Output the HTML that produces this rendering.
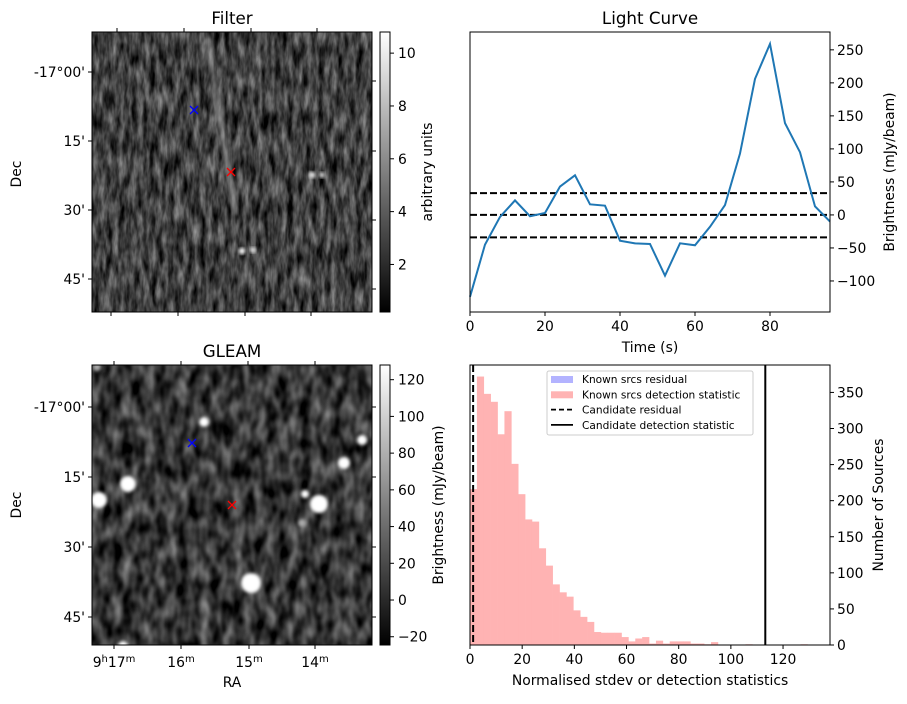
<!DOCTYPE html>
<html><head><meta charset="utf-8"><style>
body{margin:0;background:#fff;}
svg text{font-family:"DejaVu Sans","Liberation Sans",sans-serif;fill:#000;}
</style></head><body>
<svg id="fig" width="907" height="699" viewBox="0 0 907 699" xmlns="http://www.w3.org/2000/svg">
<defs>
<linearGradient id="gray" x1="0" y1="1" x2="0" y2="0"><stop offset="0" stop-color="#000"/><stop offset="1" stop-color="#fff"/></linearGradient>
<filter id="noiseF" x="0" y="0" width="100%" height="100%" color-interpolation-filters="sRGB"><feTurbulence type="fractalNoise" baseFrequency="0.16 0.045" numOctaves="3" seed="4"/><feColorMatrix type="matrix" values="0.8 0 0 0 -0.15 0.8 0 0 0 -0.15 0.8 0 0 0 -0.15 0 0 0 0 1"/></filter>
<filter id="noiseG" x="0" y="0" width="100%" height="100%" color-interpolation-filters="sRGB"><feTurbulence type="fractalNoise" baseFrequency="0.09 0.05" numOctaves="2" seed="9"/><feColorMatrix type="matrix" values="0.8 0 0 0 -0.19 0.8 0 0 0 -0.19 0.8 0 0 0 -0.19 0 0 0 0 1"/></filter>
<filter id="blur2"><feGaussianBlur stdDeviation="1.5"/></filter>
<clipPath id="clipF"><rect x="92" y="32" width="280" height="280"/></clipPath>
<clipPath id="clipG"><rect x="92" y="365" width="280" height="280"/></clipPath>
</defs>

<g>
<text x="232" y="24" font-size="16.7" text-anchor="middle">Filter</text>
<g clip-path="url(#clipF)">
<rect x="92" y="32" width="280" height="280" fill="#333"/>
<rect x="92" y="32" width="280" height="280" filter="url(#noiseF)"/>
<line x1="207" y1="38" x2="236" y2="215" stroke="#bbb" stroke-width="6" opacity="0.45" filter="url(#blur2)"/>
<circle cx="242" cy="251" r="3.5" fill="#eee" filter="url(#blur2)"/><circle cx="253" cy="250" r="3" fill="#ddd" filter="url(#blur2)"/>
<circle cx="312" cy="175" r="3.5" fill="#ddd" filter="url(#blur2)"/><circle cx="322" cy="175" r="3" fill="#ccc" filter="url(#blur2)"/>
</g>
<rect x="92" y="32" width="280" height="280" fill="none" stroke="#000" stroke-width="1"/>
<g stroke="#00f" stroke-width="1.3"><line x1="190" y1="106" x2="198" y2="114"/><line x1="198" y1="106" x2="190" y2="114"/></g>
<g stroke="#f00" stroke-width="1.3"><line x1="227" y1="168" x2="235" y2="176"/><line x1="235" y1="168" x2="227" y2="176"/></g>
<g id="filterTicks" stroke="#000"></g>
<text x="21" y="174" font-size="13.9" text-anchor="middle" transform="rotate(-90 21 174)">Dec</text>
<rect x="380" y="32" width="10" height="280" fill="url(#gray)" stroke="#000" stroke-width="1"/>
<text x="432" y="172" font-size="13.9" text-anchor="middle" transform="rotate(-90 432 172)">arbitrary units</text>
</g>

<g>
<text x="232" y="357" font-size="16.7" text-anchor="middle">GLEAM</text>
<g clip-path="url(#clipG)">
<rect x="92" y="365" width="280" height="280" fill="#252525"/>
<rect x="92" y="365" width="280" height="280" filter="url(#noiseG)"/>
<g fill="#fff" filter="url(#blur2)">
<circle cx="128" cy="484" r="8"/><circle cx="99" cy="500" r="8"/><circle cx="204" cy="422" r="5"/>
<circle cx="251" cy="583" r="10"/><circle cx="319" cy="504" r="9"/><circle cx="344" cy="463" r="6"/>
<circle cx="362" cy="440" r="5"/><circle cx="305" cy="494" r="4"/><circle cx="302" cy="523" r="4" fill="#aaa"/><circle cx="123" cy="646" r="5"/><circle cx="97" cy="367" r="4" fill="#aaa"/>
</g>
</g>
<rect x="92" y="365" width="280" height="280" fill="none" stroke="#000" stroke-width="1"/>
<g stroke="#00f" stroke-width="1.3"><line x1="188" y1="439" x2="196" y2="447"/><line x1="196" y1="439" x2="188" y2="447"/></g>
<g stroke="#f00" stroke-width="1.3"><line x1="228" y1="501" x2="236" y2="509"/><line x1="236" y1="501" x2="228" y2="509"/></g>
<g id="gleamTicks" stroke="#000"></g>
<text x="21" y="505" font-size="13.9" text-anchor="middle" transform="rotate(-90 21 505)">Dec</text>
<text x="232" y="687" font-size="13.9" text-anchor="middle">RA</text>
<rect x="380" y="365" width="10" height="280" fill="url(#gray)" stroke="#000" stroke-width="1"/>
</g>

<g id="lc">
<text x="650" y="24" font-size="16.7" text-anchor="middle">Light Curve</text>
</g>
<g id="hist"></g>
</svg>
<script>
const NS="http://www.w3.org/2000/svg";
const FS=13.9;
function mk(parent,tag,attrs,text){const e=document.createElementNS(NS,tag);for(const k in attrs)e.setAttribute(k,attrs[k]);if(text!==undefined)e.textContent=text;parent.appendChild(e);return e;}

const decLabels=["-17°00'","15'","30'","45'"];
const raLabels=[["9","h","17","m"],["","","16","m"],["","","15","m"],["","","14","m"]];
const filterCbTicks=[2,4,6,8,10];
const gleamCbTicks=[-20,0,20,40,60,80,100,120];
function imgTicks(g,top,decY,raX,raTopX,rightY,showRA){
  decY.forEach((y,i)=>{mk(g,'line',{x1:88,y1:top+y,x2:92,y2:top+y});
    const t=mk(g,'text',{x:85,y:top+y+5,'font-size':FS,'text-anchor':'end',stroke:'none'},decLabels[i]);
    
    });
  rightY.forEach(y=>mk(g,'line',{x1:372,y1:top+y,x2:376,y2:top+y}));
  raTopX.forEach(x=>mk(g,'line',{x1:x,y1:top-4,x2:x,y2:top}));
  raX.forEach((x,i)=>{mk(g,'line',{x1:x,y1:top+280,x2:x,y2:top+284});
    if(showRA){const l=raLabels[i];
      const t=mk(g,'text',{x:x,y:top+302,'font-size':FS,'text-anchor':'middle',stroke:'none'});
      
      
      if(l[0]){mk(t,'tspan',{},l[0]);mk(t,'tspan',{'font-size':10,dy:-5},l[1]);mk(t,'tspan',{dy:5},l[2]);}
      else mk(t,'tspan',{},l[2]);
      mk(t,'tspan',{'font-size':10,dy:-5},l[3]);}});
}
imgTicks(document.getElementById('filterTicks'),32,[40,109,178,247],[111,178,245,311],[117,184,251,317],[49,119,188,257],false);
imgTicks(document.getElementById('gleamTicks'),365,[42,112,182,252],[114,181,249,315],[114,181,248,315],[42,112,182,252],true);
function cbTicks(g,ticks,vmin,vmax,top){ticks.forEach(v=>{const y=top+280-(v-vmin)/(vmax-vmin)*280;
  mk(g,'line',{x1:390,y1:y,x2:394,y2:y});
  const t=mk(g,'text',{x:398,y:y+5,'font-size':FS,stroke:'none'},v<0?'\u2212'+(-v):String(v));
  
  });}
cbTicks(document.getElementById('filterTicks'),filterCbTicks,0.2,10.8,32);
cbTicks(document.getElementById('gleamTicks'),gleamCbTicks,-24.5,128,365);

const lcTimes=[0,4,8,12,16,20,24,28,32,36,40,44,48,52,56,60,64,68,72,76,80,84,88,92,96];
const lcFlux=[-124,-45,-3,22,-2,3,43,60,16,14,-39,-43,-44,-92,-43,-46,-18,15,93,206,259,139,95,13,-10];
const lcThresholds=[33,0,-34];
const lcXTicks=[0,20,40,60,80];
const lcYTicks=[-100,-50,0,50,100,150,200,250];
(function(){
  const g=document.getElementById('lc');
  const L=470,R=830,T=32,B=312,xmin=0,xmax=96,ymin=-147,ymax=277;
  const X=v=>L+(v-xmin)/(xmax-xmin)*(R-L), Y=v=>B-(v-ymin)/(ymax-ymin)*(B-T);
  lcThresholds.forEach(v=>{const l=mk(g,'line',{x1:L,x2:R,y1:Y(v),y2:Y(v),stroke:'#000','stroke-width':2,'stroke-dasharray':'7,3'});
    
    });
  const p=mk(g,'polyline',{points:lcTimes.map((t,i)=>X(t)+','+Y(lcFlux[i])).join(' '),fill:'none',stroke:'#1f77b4','stroke-width':2});
  
  
  mk(g,'rect',{x:L,y:T,width:R-L,height:B-T,fill:'none',stroke:'#000'});
  lcXTicks.forEach(v=>{mk(g,'line',{x1:X(v),x2:X(v),y1:B,y2:B+4,stroke:'#000'});
    const t=mk(g,'text',{x:X(v),y:B+19,'font-size':FS,'text-anchor':'middle'},String(v));
    
    });
  lcYTicks.forEach(v=>{mk(g,'line',{x1:R,x2:R+4,y1:Y(v),y2:Y(v),stroke:'#000'});
    const t=mk(g,'text',{x:R+7,y:Y(v)+5,'font-size':FS},v<0?'\u2212'+(-v):String(v));
    
    });
  const xl=mk(g,'text',{x:(L+R)/2,y:352,'font-size':FS,'text-anchor':'middle'},'Time (s)');
  
  
  const yl=mk(g,'text',{x:894,y:172,'font-size':FS,'text-anchor':'middle',transform:'rotate(-90 894 172)'},'Brightness (mJy/beam)');
  
  
})();

const binWidth=2.64;
const histCounts=[216,372,348,337,292,324,251,209,174,171,134,110,84,73,67,48,39,32,18,17,17,17,11,5,9,11,2,6,2,5,5,5,2,2,1,4,0,0,0,0,1,0,0,0,0,0,0,0,1];
const candidateResidual=1.2;
const candidateDetection=113.2;
const histXTicks=[0,20,40,60,80,100,120];
const histYTicks=[0,50,100,150,200,250,300,350];
(function(){
  const g=document.getElementById('hist');
  const L=470,R=830,T=365,B=645,xmin=0,xmax=138,ymin=0,ymax=388;
  const X=v=>L+(v-xmin)/(xmax-xmin)*(R-L), Y=v=>B-(v-ymin)/(ymax-ymin)*(B-T);
  histCounts.forEach((c,i)=>{if(!c)return;const x0=X(i*binWidth),x1=X((i+1)*binWidth);
    const r=mk(g,'rect',{x:x0,y:Y(c),width:x1-x0+0.3,height:B-Y(c),fill:'#ffb3b3'});
    
    });
  const d=mk(g,'line',{x1:X(candidateResidual),x2:X(candidateResidual),y1:T,y2:B,stroke:'#000','stroke-width':2,'stroke-dasharray':'7,3'});
  
  
  const s=mk(g,'line',{x1:X(candidateDetection),x2:X(candidateDetection),y1:T,y2:B,stroke:'#000','stroke-width':2});
  
  
  mk(g,'rect',{x:L,y:T,width:R-L,height:B-T,fill:'none',stroke:'#000'});
  histXTicks.forEach(v=>{mk(g,'line',{x1:X(v),x2:X(v),y1:B,y2:B+4,stroke:'#000'});
    const t=mk(g,'text',{x:X(v),y:B+19,'font-size':FS,'text-anchor':'middle'},String(v));
    
    });
  histYTicks.forEach(v=>{mk(g,'line',{x1:R,x2:R+4,y1:Y(v),y2:Y(v),stroke:'#000'});
    const t=mk(g,'text',{x:R+7,y:Y(v)+5,'font-size':FS},String(v));
    
    });
  const xl=mk(g,'text',{x:(L+R)/2,y:685,'font-size':FS,'text-anchor':'middle'},'Normalised stdev or detection statistics');
  
  
  const yl=mk(g,'text',{x:443,y:505,'font-size':FS,'text-anchor':'middle',transform:'rotate(-90 443 505)'},'Brightness (mJy/beam)');
  
  
  const yr=mk(g,'text',{x:883,y:505,'font-size':FS,'text-anchor':'middle',transform:'rotate(-90 883 505)'},'Number of Sources');
  
  
  const lg=mk(g,'g',{});
  
  
  mk(lg,'rect',{x:547,y:371,width:206,height:64,rx:2,fill:'#fff','fill-opacity':0.85,stroke:'#ccc'});
  const entries=[['patch','#b3b3ff','Known srcs residual'],['patch','#ffb3b3','Known srcs detection statistic'],['dash','#000','Candidate residual'],['line','#000','Candidate detection statistic']];
  entries.forEach((e,i)=>{const y=379+i*15.3;
    if(e[0]==='patch')mk(lg,'rect',{x:551,y:y-3,width:22,height:7,fill:e[1]});
    else mk(lg,'line',{x1:551,x2:573,y1:y,y2:y,stroke:e[1],'stroke-width':1.8,'stroke-dasharray':e[0]==='dash'?'5,3':'none'});
    const t=mk(lg,'text',{x:582,y:y+4,'font-size':10.6},e[2]);
    
    });
})();
</script>
</body></html>
